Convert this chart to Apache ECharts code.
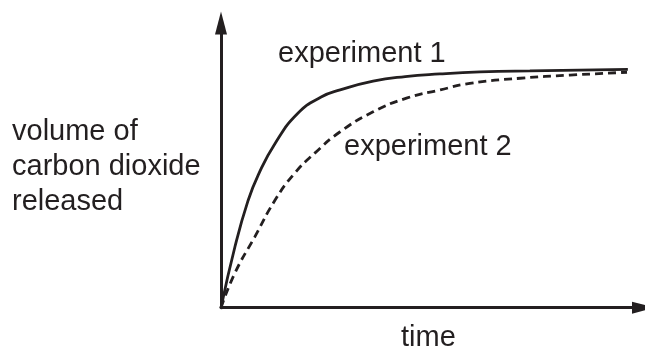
<!DOCTYPE html>
<html>
<head>
<meta charset="utf-8">
<title>carbon dioxide released</title>
<script src="https://cdn.jsdelivr.net/npm/echarts@6/dist/echarts.min.js"></script>
<style>
	html, body { margin: 0; padding: 0; background: #fff; }
	#main { width: 645px; height: 349px; }
</style>
</head>
<body>
<div id="main"></div>
<script>
	// experiment 1 (solid)
	var time1 = [0, 3.3, 6.4, 8.8, 12.8, 18.2, 23.7, 28.2, 36.0, 43.6, 51.8, 61.3, 73.1, 96.3];
	var volume1 = [0, 21.4, 37.6, 46.6, 57.7, 68.3, 74.0, 76.5, 79.6, 81.2, 82.1, 82.8, 83.2, 83.7];
	// experiment 2 (dashed)
	var time2 = [0, 3.3, 8.0, 12.8, 17.3, 22.2, 28.2, 36.0, 43.9, 51.9, 58.9, 70.8, 82.6, 96.1];
	var volume2 = [0, 12.2, 24.9, 37.8, 47.0, 54.3, 61.8, 68.8, 73.6, 76.5, 78.8, 80.6, 81.7, 82.7];

	var seriesNames = ['experiment 1', 'experiment 2'];
	var yAxisLabel = 'volume of\ncarbon dioxide\nreleased';
	var xAxisLabel = 'time';

	var ink = '#231f20';
	var font = "'Liberation Sans', Arial, Helvetica, sans-serif";

	function pairs(xs, ys) {
		var out = [];
		for (var i = 0; i < xs.length; i++) out.push([xs[i], ys[i]]);
		return out;
	}

	function label(x, y, text) {
		return {type: 'text', style: {x: x, y: y, text: text, fill: ink, font: '29px ' + font, lineHeight: 35, verticalAlign: 'middle', align: 'left'}};
	}

	var chart = echarts.init(document.getElementById('main'), null, {renderer: 'canvas'}),
	    option = {
		animation: false,
		backgroundColor: '#fff',
		grid: {left: 221, right: 1.5, top: 23, bottom: 41.3},
		xAxis: {
			type: 'value',
			min: 0,
			max: 100,
			axisLine: {show: true, symbol: ['none', 'triangle'], symbolSize: [12, 23], lineStyle: {color: ink, width: 3}},
			axisTick: {show: false},
			axisLabel: {show: false},
			splitLine: {show: false}
		},
		yAxis: {
			type: 'value',
			min: 0,
			max: 100,
			axisLine: {show: true, symbol: ['none', 'triangle'], symbolSize: [12, 23], lineStyle: {color: ink, width: 3}},
			axisTick: {show: false},
			axisLabel: {show: false},
			splitLine: {show: false}
		},
		graphic: [
			label(12, 167, yAxisLabel),
			label(278, 54, seriesNames[0]),
			label(344, 147, seriesNames[1]),
			label(401, 338, xAxisLabel)
		],
		series: [{
			name: seriesNames[0],
			type: 'line',
			data: pairs(time1, volume1),
			smooth: true,
			showSymbol: false,
			lineStyle: {color: ink, width: 2.8, type: 'solid'}
		}, {
			name: seriesNames[1],
			type: 'line',
			data: pairs(time2, volume2),
			smooth: true,
			showSymbol: false,
			lineStyle: {color: ink, width: 2.8, type: [8, 5]}
		}]
	};
	chart.setOption(option);
</script>
</body>
</html>
